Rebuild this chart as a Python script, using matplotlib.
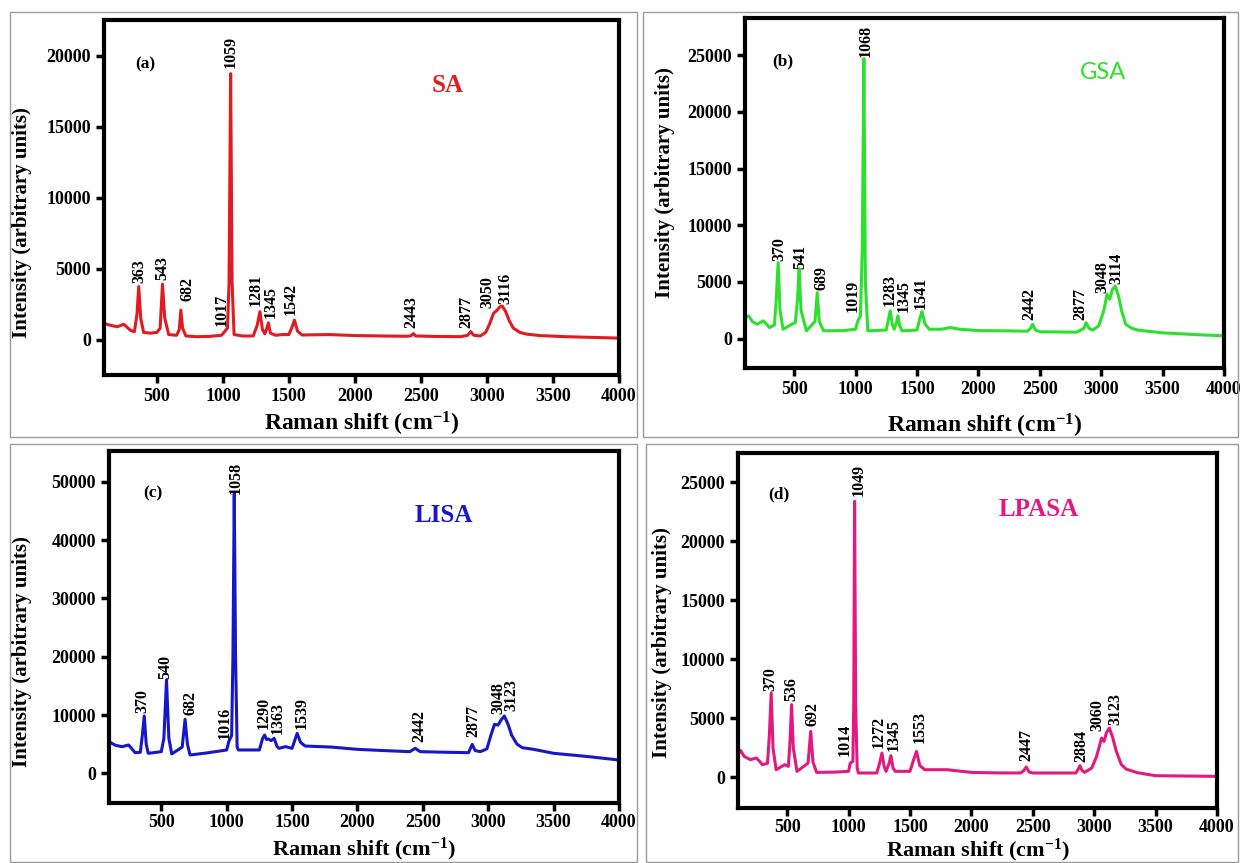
import matplotlib
matplotlib.use("Agg")
import matplotlib.pyplot as plt
from matplotlib.patches import Rectangle

plt.rcParams['font.family'] = ['Liberation Serif', 'DejaVu Serif']
plt.rcParams['font.weight'] = 'bold'
plt.rcParams['mathtext.fontset'] = 'custom'
plt.rcParams['mathtext.rm'] = 'Liberation Serif:bold'
plt.rcParams['mathtext.default'] = 'rm'

# ---- data ----
# (a) SA
sa_x = [100, 150, 200, 250, 300, 330, 350, 363, 378, 400, 450, 500, 525, 543, 560, 590,
        650, 670, 682, 695, 720, 800, 900, 990, 1017, 1035, 1047, 1059, 1070, 1085, 1150,
        1230, 1260, 1281, 1300, 1318, 1330, 1345, 1360, 1400, 1450, 1500, 1525, 1542, 1565,
        1600, 1800, 2000, 2200, 2400, 2425, 2443, 2460, 2600, 2800, 2855, 2877, 2900, 2950,
        2990, 3020, 3050, 3075, 3100, 3116, 3140, 3170, 3200, 3250, 3300, 3400, 3600, 3800, 4000]
sa_y = [1130, 1000, 900, 1080, 650, 550, 1800, 3730, 1500, 500, 450, 500, 800, 3900, 1500, 350,
        300, 700, 2080, 800, 250, 200, 220, 300, 600, 800, 4000, 18750, 4000, 350, 250,
        250, 1000, 1960, 700, 400, 700, 1180, 450, 300, 350, 350, 900, 1370, 600,
        320, 350, 280, 250, 230, 270, 420, 250, 220, 200, 300, 560, 300, 250,
        500, 1100, 1850, 2050, 2330, 2360, 2000, 1300, 800, 500, 380, 280, 200, 150, 100]
sa_lab = ['363', '543', '682', '1017', '1059', '1281', '1345', '1542', '2443', '2877', '3050', '3116']
sa_lab_x = [371, 545, 733, 991, 1060, 1250, 1365, 1515, 2425, 2844, 3000, 3140]
sa_lab_y = [3840, 4080, 2550, 780, 19000, 2200, 1370, 1600, 660, 660, 2080, 2360]

# (b) GSA
gsa_x = [100, 130, 160, 200, 250, 300, 340, 355, 370, 385, 410, 480, 510, 528, 541, 556, 600,
         670, 689, 705, 740, 900, 1000, 1019, 1040, 1055, 1068, 1080, 1100, 1250, 1270, 1283,
         1300, 1315, 1335, 1345, 1360, 1380, 1500, 1525, 1541, 1565, 1600, 1700, 1770, 1850,
         2000, 2200, 2400, 2425, 2442, 2465, 2500, 2800, 2860, 2877, 2900, 2930, 2980, 3020,
         3048, 3070, 3090, 3114, 3140, 3170, 3200, 3250, 3300, 3500, 3800, 4000]
gsa_y = [1850, 2000, 1500, 1260, 1560, 970, 1200, 3500, 6700, 2500, 820, 1260, 1400, 3500, 6170, 2500, 680,
         1500, 4060, 1500, 680, 700, 820, 1560, 2000, 8000, 24700, 5000, 680, 750, 1800, 2440,
         1200, 820, 1500, 2000, 1100, 680, 750, 1800, 2380, 1300, 820, 820, 970, 820,
         700, 680, 650, 900, 1260, 750, 600, 560, 900, 1400, 900, 740, 1120, 2400,
         3900, 3470, 4300, 4640, 3800, 2300, 1260, 900, 740, 500, 330, 240]
gsa_lab = ['370', '541', '689', '1019', '1068', '1283', '1345', '1541', '2442', '2877', '3048', '3114']
gsa_lab_x = [379, 554, 723, 978, 1080, 1280, 1392, 1532, 2417, 2831, 3006, 3124]
gsa_lab_y = [6700, 5970, 4120, 2150, 24700, 2730, 2150, 2440, 1470, 1470, 3910, 4640]

# (c) LISA
lisa_x = [100, 150, 200, 250, 300, 340, 355, 370, 385, 400, 500, 520, 540, 558, 580, 660, 682,
          700, 720, 850, 1000, 1016, 1038, 1048, 1058, 1068, 1080, 1090, 1250, 1275, 1290, 1305,
          1320, 1340, 1363, 1385, 1400, 1450, 1500, 1520, 1539, 1565, 1600, 1800, 2000, 2200,
          2400, 2442, 2480, 2700, 2850, 2877, 2900, 2940, 2990, 3020, 3048, 3075, 3100, 3123,
          3150, 3180, 3220, 3260, 3350, 3500, 3750, 4000]
lisa_y = [5430, 4800, 4570, 4860, 3540, 3600, 6500, 9830, 5000, 3430, 3710, 6000, 16000, 6000, 3320, 4500, 9260,
          5000, 3140, 3500, 4000, 5430, 6500, 20000, 48000, 20000, 4500, 4000, 4000, 6000, 6570, 5800,
          5880, 5600, 6000, 4600, 4280, 4570, 4280, 5600, 6850, 5300, 4680, 4500, 4110, 3900,
          3710, 4280, 3710, 3600, 3540, 4970, 3900, 3710, 4200, 6500, 8400, 8280, 9200, 9830,
          8500, 6500, 5000, 4400, 4100, 3430, 2900, 2280]
lisa_lab = ['370', '540', '682', '1016', '1058', '1290', '1363', '1539', '2442', '2877', '3048', '3123']
lisa_lab_x = [355, 530, 726, 983, 1067, 1284, 1390, 1571, 2476, 2884, 3074, 3180]
lisa_lab_y = [10160, 16000, 9820, 5710, 47700, 7420, 6570, 7420, 5140, 6000, 10000, 10560]

# (d) LPASA
lpasa_x = [100, 120, 150, 200, 250, 300, 340, 355, 370, 385, 410, 480, 510, 523, 536, 550, 580,
           670, 692, 710, 740, 900, 1000, 1014, 1035, 1042, 1049, 1058, 1070, 1080, 1230, 1255,
           1272, 1290, 1305, 1330, 1345, 1362, 1380, 1500, 1530, 1553, 1580, 1620, 1800, 2000,
           2200, 2400, 2425, 2447, 2470, 2500, 2850, 2870, 2884, 2900, 2920, 2980, 3020, 3060,
           3080, 3100, 3123, 3150, 3180, 3220, 3260, 3350, 3500, 4000]
lpasa_y = [1920, 2290, 1780, 1500, 1640, 1070, 1200, 3500, 7150, 2500, 650, 1070, 930, 3000, 6160, 2500, 510,
           1200, 3900, 1300, 420, 450, 510, 1210, 1360, 6000, 23400, 6000, 800, 370, 370, 1300,
           2060, 900, 510, 1200, 1840, 800, 510, 510, 1500, 2200, 1000, 650, 650, 420,
           380, 370, 550, 880, 450, 370, 370, 700, 990, 600, 420, 790, 1800, 3330,
           3050, 3800, 4180, 3400, 2200, 1100, 700, 400, 140, 85]
lpasa_lab = ['370', '536', '692', '1014', '1049', '1272', '1345', '1553', '2447', '2884', '3060', '3123']
lpasa_lab_x = [364, 532, 704, 968, 1083, 1245, 1365, 1576, 2444, 2898, 3027, 3173]
lpasa_lab_y = [7150, 6300, 4180, 1640, 23670, 2340, 2060, 2770, 1210, 1130, 3760, 4320]

panels = [
    dict(x=sa_x, y=sa_y, lab=sa_lab, lx=sa_lab_x, ly=sa_lab_y, color='#e01b22',
         pos=[0.0838, 0.5655, 0.415, 0.4108], ylim=(-2500, 22500), ystep=5000, ymax=20000,
         tag='(a)', tagxy=(410, 19420), name='SA', namexy=(2700, 17940), namefont='serif',
         xl=-0.099, yl=(-0.140, 0.43)),
    dict(x=gsa_x, y=gsa_y, lab=gsa_lab, lx=gsa_lab_x, ly=gsa_lab_y, color='#2ee02e',
         pos=[0.6003, 0.5736, 0.386, 0.4056], ylim=(-2600, 28300), ystep=5000, ymax=25000,
         tag='(b)', tagxy=(411, 24500), name='GSA', namexy=(3016, 23500), namefont='sans',
         xl=-0.126, yl=(-0.146, 0.53)),
    dict(x=lisa_x, y=lisa_y, lab=lisa_lab, lx=lisa_lab_x, ly=lisa_lab_y, color='#1717c8',
         pos=[0.0878, 0.0695, 0.411, 0.4079], ylim=(-5100, 55300), ystep=10000, ymax=50000,
         tag='(c)', tagxy=(434, 47960), name='LISA', namexy=(2657, 44250), namefont='serif',
         xl=-0.092, yl=(-0.151, 0.43)),
    dict(x=lpasa_x, y=lpasa_y, lab=lpasa_lab, lx=lpasa_lab_x, ly=lpasa_lab_y, color='#e2197f',
         pos=[0.5947, 0.0637, 0.386, 0.4114], ylim=(-2600, 27500), ystep=5000, ymax=25000,
         tag='(d)', tagxy=(435, 23960), name='LPASA', namexy=(2548, 22680), namefont='serif',
         xl=-0.082, yl=(-0.138, 0.465)),
]

fig = plt.figure(figsize=(12.41, 8.63), dpi=100)

# thin grey frames around each panel (pixel boxes)
W, H = 1241, 863
for x0, y0, x1, y1 in [(10, 12, 637, 437), (643, 12, 1238, 437),
                       (10, 444, 637, 862), (646, 444, 1238, 862)]:
    fig.patches.append(Rectangle((x0 / W, 1 - y1 / H), (x1 - x0) / W, (y1 - y0) / H,
                                 transform=fig.transFigure, fill=False,
                                 edgecolor='#9a9a9a', lw=1.0, zorder=0))

for i, p in enumerate(panels):
    ax = fig.add_axes(p['pos'])
    ax.plot(p['x'], p['y'], color=p['color'], lw=2.2)
    for t, lx, ly in zip(p['lab'], p['lx'], p['ly']):
        ax.text(lx, ly + 150, t, rotation=90, ha='center', va='bottom',
                fontsize=11.5, fontweight='bold')
    ax.text(*p['tagxy'], p['tag'], ha='center', va='center', fontsize=12.5, fontweight='bold')
    if p['namefont'] == 'sans':
        ax.text(*p['namexy'], p['name'], ha='center', va='center', fontsize=17,
                color=p['color'], family='Lato', fontweight='normal')
    else:
        ax.text(*p['namexy'], p['name'], ha='center', va='center', fontsize=18,
                color=p['color'], fontweight='bold')
    ax.set_xlim(100, 4000)
    ax.set_ylim(*p['ylim'])
    ax.set_xticks(range(500, 4001, 500))
    ax.set_yticks(range(0, p['ymax'] + 1, p['ystep']))
    for s in ax.spines.values():
        s.set_linewidth(3)
    ax.tick_params(direction='out', length=6, width=2.5, labelsize=13, top=False, right=False)
    if i >= 2:
        ax.tick_params(axis='x', pad=2)
    for lab in ax.get_xticklabels() + ax.get_yticklabels():
        lab.set_fontweight('bold')
    xl_size = 17 if i < 2 else 16
    ax.set_xlabel('Raman shift (cm$^{-1}$)', fontsize=xl_size, fontweight='bold')
    ax.set_ylabel('Intensity (arbitrary units)', fontsize=15, fontweight='bold')
    ax.xaxis.set_label_coords(0.5, p['xl'])
    ax.yaxis.set_label_coords(*p['yl'])

fig.savefig('out.png', dpi=100)
